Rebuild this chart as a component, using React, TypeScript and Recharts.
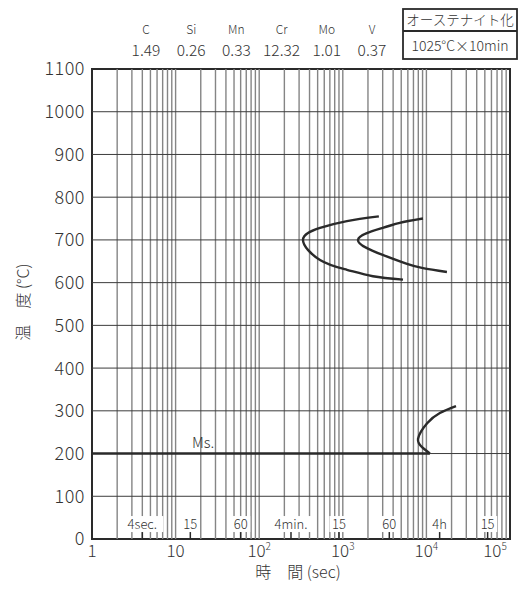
import {
  Line,
  LineChart,
  ReferenceArea,
  ReferenceDot,
  ReferenceLine,
  XAxis,
  YAxis,
} from "recharts";

const FONT = '"Noto Sans CJK JP", "Noto Sans", sans-serif';
const INK = "#2a2a2a";

// steel composition (mass %)
const elements = ["C", "Si", "Mn", "Cr", "Mo", "V"];
const contents = ["1.49", "0.26", "0.33", "12.32", "1.01", "0.37"];

const timeTicks = [1, 10, 100, 1000, 10000, 100000];
const tempTicks = [0, 100, 200, 300, 400, 500, 600, 700, 800, 900, 1000, 1100];

// clock-time marks along the bottom of the plot
const markTimes = [4, 15, 60, 240, 900, 3600, 14400, 54000];
const markLabels = ["4sec.", "15", "60", "4min.", "15", "60", "4h", "15"];

// transformation curves, listed from low to high temperature
const startTime = [5250, 2290, 1120, 534, 334, 534, 1120, 2700];
const startTemp = [607, 615, 630, 653, 700, 728, 744, 755];
const finishTime = [17600, 9100, 5860, 3000, 1520, 3000, 4800, 9100];
const finishTemp = [625, 634, 644, 665, 700, 728, 740, 750];
const bainiteTime = [11000, 9100, 7940, 10200, 14500, 22600];
const bainiteTemp = [200, 213, 234, 271, 295, 311];
const msTime = [1, 11000];
const msTemp = [200, 200];

const toRows = (ts: number[], vs: number[]) => ts.map((t, i) => ({ t, v: vs[i] }));

const startData = toRows(startTime, startTemp);
const finishData = toRows(finishTime, finishTemp);
const bainiteData = toRows(bainiteTime, bainiteTemp);
const msData = toRows(msTime, msTemp);

// log grid: 2..9 within each decade plus the inner decade lines
const gridTimes: number[] = [];
for (let d = 0; d < 5; d++) {
  for (let k = 1; k <= 9; k++) {
    const t = k * Math.pow(10, d);
    if (t > 1) gridTimes.push(t);
  }
}

const XTick = ({ x, y, payload }: any) => {
  const v = payload.value as number;
  const e = Math.round(Math.log10(v));
  return (
    <text x={x} y={y + 18} textAnchor="middle" fontSize={17} fontWeight={300} fill="#333" fontFamily={FONT}>
      {e < 2 ? (
        String(v)
      ) : (
        <>
          <tspan>10</tspan>
          <tspan dy={-7} fontSize={10}>
            {e}
          </tspan>
        </>
      )}
    </text>
  );
};

const YTick = ({ x, y, payload }: any) => (
  <text
    x={x}
    y={y}
    dy="0.36em"
    textAnchor="end"
    fontSize={18}
    fontWeight={300}
    letterSpacing={0.5}
    fill="#333"
    fontFamily={FONT}
  >
    {payload.value}
  </text>
);

const markShape = (label: string) => (p: any) => {
  const w = label.length * 7.6 + 4;
  return (
    <g>
      <rect x={p.cx - w / 2} y={p.cy - 8} width={w} height={16} fill="#fff" />
      <text
        x={p.cx}
        y={p.cy}
        dy="0.36em"
        textAnchor="middle"
        fontSize={13}
        fontWeight={300}
        fill="#333"
        fontFamily={FONT}
      >
        {label}
      </text>
    </g>
  );
};

const msShape = (p: any) => (
  <text x={p.cx} y={p.cy - 6} fontSize={15} fontWeight={300} fill="#333" fontFamily={FONT}>
    Ms.
  </text>
);

const curve = { stroke: INK, strokeWidth: 2.4, dot: false, activeDot: false, isAnimationActive: false } as const;

export default function App() {
  return (
    <div style={{ position: "absolute", left: 0, top: 0, width: 519, height: 592, background: "#fff" }}>
      <LineChart width={519} height={592} margin={{ top: 69, right: 9, bottom: 23, left: 32 }}>
        <XAxis
          type="number"
          dataKey="t"
          scale="log"
          domain={[1, 100000]}
          ticks={timeTicks}
          allowDataOverflow
          tickLine={false}
          axisLine={false}
          tickSize={0}
          tickMargin={0}
          height={30}
          tick={<XTick />}
        />
        <YAxis
          type="number"
          dataKey="v"
          domain={[0, 1100]}
          ticks={tempTicks}
          allowDataOverflow
          tickLine={false}
          axisLine={false}
          tickSize={0}
          tickMargin={7}
          width={60}
          tick={<YTick />}
        />

        {gridTimes.map((t) => (
          <ReferenceLine key={`gx${t}`} x={t} stroke="#858585" strokeWidth={1.4} />
        ))}
        {tempTicks.slice(1, -1).map((v) => (
          <ReferenceLine key={`gy${v}`} y={v} stroke="#3c3c3c" strokeWidth={1} />
        ))}

        {markTimes.map((t, i) => (
          <ReferenceDot key={`mk${i}`} x={t} y={35} r={0} shape={markShape(markLabels[i])} />
        ))}
        {markTimes.map((t, i) => (
          <ReferenceLine
            key={`tk${i}`}
            segment={[
              { x: t, y: 0 },
              { x: t, y: 18 },
            ]}
            stroke={INK}
            strokeWidth={1.5}
          />
        ))}

        <ReferenceArea x1={1} x2={100000} y1={0} y2={1100} fill="none" stroke={INK} strokeWidth={2} />

        <Line data={msData} dataKey="v" type="linear" {...curve} strokeWidth={2.6} />
        <Line data={startData} dataKey="v" type="natural" {...curve} />
        <Line data={finishData} dataKey="v" type="natural" {...curve} />
        <Line data={bainiteData} dataKey="v" type="natural" {...curve} />

        <ReferenceDot x={15.7} y={200} r={0} shape={msShape} />
      </LineChart>

      <svg
        width={519}
        height={592}
        style={{ position: "absolute", left: 0, top: 0, pointerEvents: "none" }}
        fontFamily={FONT}
        fontWeight={300}
      >
        {elements.map((el, i) => (
          <text key={el} x={146 + i * 45.2} y={30} dy="0.36em" textAnchor="middle" fontSize={12} fill="#333">
            {el}
          </text>
        ))}
        {contents.map((c, i) => (
          <text key={`c${i}`} x={146 + i * 45.2} y={50} dy="0.36em" textAnchor="middle" fontSize={15.5} fill="#333">
            {c}
          </text>
        ))}

        <rect x={403} y={9} width={114} height={50} fill="none" stroke={INK} strokeWidth={1.8} />
        <line x1={403} y1={31} x2={517} y2={31} stroke={INK} strokeWidth={1.8} />
        <text x={460} y={20} dy="0.36em" textAnchor="middle" fontSize={13.5} fill="#333">
          オーステナイト化
        </text>
        <text x={460} y={46} dy="0.36em" textAnchor="middle" fontSize={14} fill="#333">
          1025°C×10min
        </text>

        <text x={298} y={572} dy="0.36em" textAnchor="middle" fontSize={16} fill="#333">
          時　間 (sec)
        </text>
        <text
          x={23}
          y={302}
          dy="0.36em"
          textAnchor="middle"
          fontSize={16}
          fill="#333"
          transform="rotate(-90 23 302)"
        >
          温　度 (°C)
        </text>
      </svg>
    </div>
  );
}
